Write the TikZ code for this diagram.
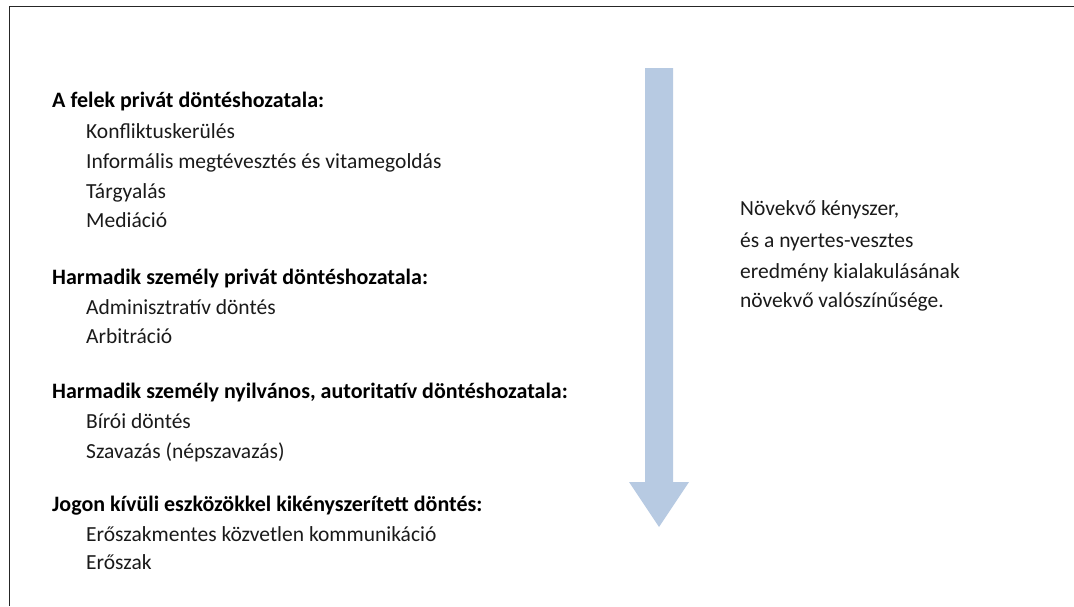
\documentclass[tikz,border=0pt]{standalone}
\usepackage{fontspec}
\setmainfont{Carlito}
\definecolor{arrowblue}{HTML}{B7CAE2}
\definecolor{textgrey}{HTML}{1A1A1A}
\begin{document}
\begin{tikzpicture}[x=1pt,y=-1pt,
  head/.style={anchor=base west,inner sep=0pt,font=\fontsize{22}{26}\selectfont\bfseries,text=black},
  item/.style={anchor=base west,inner sep=0pt,font=\fontsize{21.5}{26}\selectfont,text=textgrey},
  note/.style={anchor=base west,inner sep=0pt,font=\fontsize{21.5}{26}\selectfont,text=textgrey}]
\useasboundingbox (0,0) rectangle (1074,606);
% frame (top and left edges)
\draw[line width=1.6pt,black!85] (9.5,606) -- (9.5,6.5) -- (1074,6.5);
% downward arrow
\fill[arrowblue] (645,68) -- (673,68) -- (673,482) -- (689,482) -- (659,527)
  -- (629,482) -- (645,482) -- cycle;
% left column
\node[head] (h1) at (52,107) {A felek privát döntéshozatala:};
\node[item] (i11) at (86,138) {Konfliktuskerülés};
\node[item] (i12) at (86,168) {Informális megtévesztés és vitamegoldás};
\node[item] (i13) at (86,198) {Tárgyalás};
\node[item] (i14) at (86,227) {Mediáció};
\node[head] (h2) at (52,284) {Harmadik személy privát döntéshozatala:};
\node[item] (i21) at (86,314) {Adminisztratív döntés};
\node[item] (i22) at (86,343) {Arbitráció};
\node[head] (h3) at (52,398) {Harmadik személy nyilvános, autoritatív döntéshozatala:};
\node[item] (i31) at (86,428) {Bírói döntés};
\node[item] (i32) at (86,458) {Szavazás (népszavazás)};
\node[head] (h4) at (52,511) {Jogon kívüli eszközökkel kikényszerített döntés:};
\node[item] (i41) at (86,541) {Erőszakmentes közvetlen kommunikáció};
\node[item] (i42) at (86,569) {Erőszak};
% right column
\node[note] (n1) at (740,215) {Növekvő kényszer,};
\node[note] (n2) at (740,247) {és a nyertes-vesztes};
\node[note] (n3) at (740,278) {eredmény kialakulásának};
\node[note] (n4) at (740,307) {növekvő valószínűsége.};
\end{tikzpicture}
\end{document}
